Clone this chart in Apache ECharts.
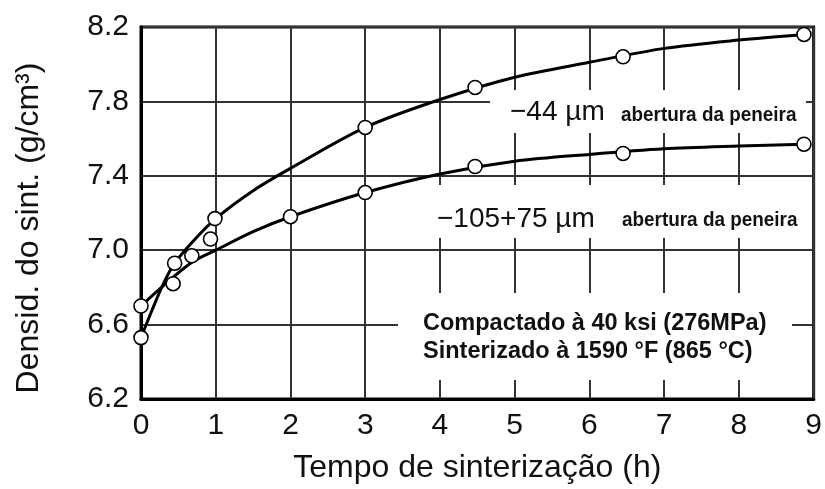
<!DOCTYPE html>
<html>
<head>
<meta charset="utf-8">
<script src="https://cdn.jsdelivr.net/npm/echarts@6/dist/echarts.min.js"></script>
<style>
  html, body { margin: 0; padding: 0; background: #fff; }
  #chart { width: 825px; height: 489px; }
</style>
</head>
<body>
<div id="chart"></div>
<script>
// Measured densities, −44 µm sieve fraction (time in h, density in g/cm³)
const fineTimes = [0, 0.45, 0.99, 3.0, 4.47, 6.45, 8.87];
const fineDensity = [6.53, 6.93, 7.17, 7.66, 7.875, 8.04, 8.16];

// Measured densities, −105+75 µm sieve fraction
const coarseTimes = [0, 0.43, 0.68, 0.93, 2.0, 3.0, 4.47, 6.45, 8.87];
const coarseDensity = [6.70, 6.82, 6.97, 7.06, 7.18, 7.31, 7.45, 7.52, 7.57];

// Trend curve through the −44 µm data
const fineCurveTimes = [0, 0.15, 0.3, 0.45, 0.7, 1, 1.5, 2, 3, 4, 5, 6, 7, 8, 8.87];
const fineCurveDensity = [6.53, 6.68, 6.82, 6.93, 7.05, 7.17, 7.32, 7.44, 7.66, 7.81, 7.93, 8.01, 8.085, 8.13, 8.16];

// Trend curve through the −105+75 µm data
const coarseCurveTimes = [0, 0.3, 0.7, 1, 1.5, 2, 3, 4, 5, 6, 7, 8, 8.87];
const coarseCurveDensity = [6.70, 6.81, 6.94, 7.00, 7.10, 7.18, 7.31, 7.41, 7.478, 7.515, 7.545, 7.56, 7.57];

// Axis ranges
const timeRange = { min: 0, max: 9, step: 1 };
const densityRange = { min: 6.2, max: 8.2, step: 0.4 };

const FONT = '"Liberation Sans", Arial, Helvetica, sans-serif';
const INK = '#111';

const zip = (xs, ys) => xs.map((x, i) => [x, ys[i]]);

const chart = echarts.init(document.getElementById('chart'), null, { renderer: 'canvas' });

const markerStyle = {
  type: 'scatter',
  symbol: 'circle',
  symbolSize: 14,
  itemStyle: { color: '#fff', borderColor: '#000', borderWidth: 1.6, opacity: 1 },
  z: 5,
  silent: true
};

const curveStyle = {
  type: 'line',
  showSymbol: false,
  smooth: 0.3,
  lineStyle: { color: '#000', width: 3 },
  z: 4,
  silent: true
};

// White panels behind the annotations interrupt the grid lines
const panel = (x, y, w, h) => ({
  type: 'rect', x, y, z: 1, silent: true,
  shape: { x: 0, y: 0, width: w, height: h },
  style: { fill: '#fff' }
});

const label = (x, y, text, font, scaleX) => ({
  type: 'text', x, y, z: 2, silent: true, scaleX: scaleX || 1,
  style: {
    text, font, fill: INK,
    align: 'left', verticalAlign: 'middle',
    textAlign: 'left', textVerticalAlign: 'middle'
  }
});

chart.setOption({
  animation: false,
  backgroundColor: '#fff',
  grid: {
    left: 141, right: 11, top: 27, bottom: 86,
    show: true, borderColor: '#000', borderWidth: 3, backgroundColor: 'transparent'
  },
  xAxis: {
    type: 'value',
    min: timeRange.min, max: timeRange.max, interval: timeRange.step,
    name: 'Tempo de sinterização (h)',
    nameLocation: 'middle',
    nameGap: 53,
    nameTextStyle: { fontSize: 32, fontFamily: FONT, color: INK },
    axisLine: { show: true, lineStyle: { color: '#000', width: 3 } },
    axisTick: { show: false },
    axisLabel: { fontSize: 30, fontFamily: FONT, color: INK, margin: 12 },
    splitLine: { show: true, lineStyle: { color: '#333', width: 2 } }
  },
  yAxis: {
    type: 'value',
    min: densityRange.min, max: densityRange.max, interval: densityRange.step,
    name: 'Densid. do sint. (g/cm³)',
    nameLocation: 'middle',
    nameGap: 96,
    nameTextStyle: { fontSize: 32, fontFamily: FONT, color: INK, padding: [0, 30, 0, 0] },
    axisLine: { show: true, lineStyle: { color: '#000', width: 3 } },
    axisTick: { show: false },
    axisLabel: {
      fontSize: 30, fontFamily: FONT, color: INK, margin: 12,
      formatter: v => v.toFixed(1)
    },
    splitLine: { show: true, lineStyle: { color: '#333', width: 2 } }
  },
  graphic: [
    panel(490, 90, 316, 43),
    panel(435, 185, 371, 53),
    panel(398, 293, 394, 87),
    label(510, 112, '−44 µm', '28px ' + FONT),
    label(621, 115, 'abertura da peneira', 'bold 21px ' + FONT, 0.9),
    label(437, 219, '−105+75 µm', '28px ' + FONT),
    label(622, 220, 'abertura da peneira', 'bold 21px ' + FONT, 0.9),
    label(423, 324, 'Compactado à 40 ksi (276MPa)', 'bold 23.5px ' + FONT),
    label(423, 352, 'Sinterizado à 1590 °F (865 °C)', 'bold 23.5px ' + FONT)
  ],
  series: [
    Object.assign({ name: '−44 µm (curva)', data: zip(fineCurveTimes, fineCurveDensity) }, curveStyle),
    Object.assign({ name: '−105+75 µm (curva)', data: zip(coarseCurveTimes, coarseCurveDensity) }, curveStyle),
    Object.assign({ name: '−44 µm', data: zip(fineTimes, fineDensity) }, markerStyle),
    Object.assign({ name: '−105+75 µm', data: zip(coarseTimes, coarseDensity) }, markerStyle)
  ]
});
</script>
</body>
</html>
